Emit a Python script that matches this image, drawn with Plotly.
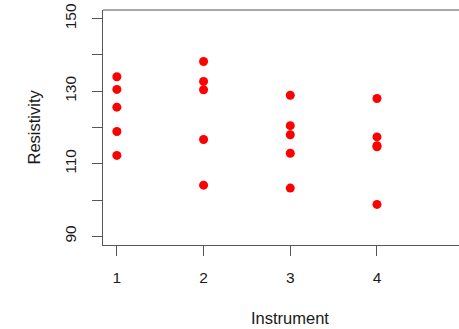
import plotly.graph_objects as go

instrument_1 = [134.0, 130.5, 125.6, 118.9, 112.3]
instrument_2 = [138.2, 132.7, 130.4, 116.7, 104.1]
instrument_3 = [128.9, 120.5, 118.0, 112.9, 103.3]
instrument_4 = [128.0, 117.4, 115.0, 114.7, 98.8]
groups = [instrument_1, instrument_2, instrument_3, instrument_4]
instrument_ids = [1, 2, 3, 4]
y_ticks = [90, 100, 110, 120, 130, 140, 150]
y_tick_text = ["90", "", "110", "", "130", "", "150"]
x_ticks = [1, 2, 3, 4, 5]

xs, ys = [], []
for i, g in zip(instrument_ids, groups):
    xs += [i] * len(g)
    ys += g

FONT = "Liberation Sans, Arial, Helvetica, sans-serif"
LINE = "#555555"
TXT = "#1a1a1a"

fig = go.Figure()
fig.add_trace(go.Scatter(x=xs, y=ys, mode="markers",
                         marker=dict(color="#FF0000", size=9, line=dict(width=0)),
                         showlegend=False, hoverinfo="x+y"))

fig.update_layout(
    width=459, height=329,
    margin=dict(l=103, r=0, t=10, b=84, autoexpand=False),
    paper_bgcolor="white", plot_bgcolor="white",
    font=dict(family=FONT, size=15.5, color=TXT),
    xaxis=dict(range=[0.84, 4.946], tickvals=x_ticks, ticks="outside", ticklen=10,
               tickcolor=LINE, showline=True, linecolor=LINE, linewidth=1,
               showgrid=False, zeroline=False, ticklabelstandoff=8,
               automargin=False, tickfont=dict(size=15.5)),
    yaxis=dict(range=[87.6, 152.4], tickvals=y_ticks, ticktext=y_tick_text,
               ticks="outside", ticklen=10, tickcolor=LINE, showline=True,
               linecolor=LINE, linewidth=1, showgrid=False, zeroline=False,
               tickangle=-90, ticklabelstandoff=10, automargin=False,
               tickfont=dict(size=15.5)),
    shapes=[dict(type="line", xref="paper", yref="paper", x0=0, x1=1, y0=1, y1=1,
                 line=dict(color=LINE, width=1))],
    annotations=[
        dict(text="Instrument", xref="x", yref="paper", x=3, y=0, yshift=-73,
             xanchor="center", yanchor="middle", showarrow=False,
             font=dict(size=16.5, color=TXT)),
        dict(text="Resistivity", xref="paper", yref="paper", x=0, y=0.5, xshift=-70,
             xanchor="center", yanchor="middle", textangle=-90, showarrow=False,
             font=dict(size=16.5, color=TXT)),
    ],
)

fig.write_html("out.html", config={"displayModeBar": False},
               post_script="document.body.style.margin='0';")
